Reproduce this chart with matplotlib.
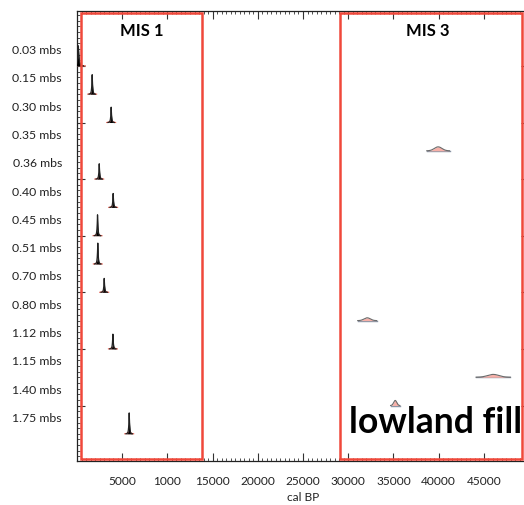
import numpy as np
import matplotlib
matplotlib.use("Agg")
import matplotlib.pyplot as plt
from matplotlib.ticker import MultipleLocator, FixedLocator, NullFormatter
from matplotlib.patches import Rectangle

# ---- data ----
depth_labels = ["0.03 mbs", "0.15 mbs", "0.30 mbs", "0.35 mbs", "0.36 mbs", "0.40 mbs",
                "0.45 mbs", "0.51 mbs", "0.70 mbs", "0.80 mbs", "1.12 mbs", "1.15 mbs",
                "1.40 mbs", "1.75 mbs"]
cal_age = [150, 1680, 3780, 39950, 2460, 4000, 2270, 2300, 3010, 32100, 3970, 46040, 35200, 5775]
cal_sd = [110, 70, 70, 420, 70, 70, 70, 70, 70, 350, 70, 630, 170, 70]
rel_height = [0.72, 0.70, 0.55, 0.14, 0.55, 0.50, 0.75, 0.75, 0.50, 0.10, 0.53, 0.10, 0.18, 0.75]
xtick_values = [5000, 10000, 15000, 20000, 25000, 30000, 35000, 40000, 45000]
xtick_labels = ["5000", "1000", "15000", "20000", "25000", "30000", "35000", "40000", "45000"]
periods = ["MIS 1", "MIS 3"]
period_start = [465, 29115]
period_end = [13850, 49250]

FONT = ["Lato", "DejaVu Sans"]
plt.rcParams["font.family"] = FONT
RED = "#f0483a"

W, H = 524, 506
fig = plt.figure(figsize=(W / 100, H / 100), dpi=100)
ax = fig.add_axes([77 / W, (H - 462) / H, 452 / W, 450 / H])

ax.set_xlim(0, 50000)
ax.set_ylim(13.96, -1.94)

rows = np.arange(len(depth_labels))
for r, m, s, h in zip(rows, cal_age, cal_sd, rel_height):
    if m < 14000:
        # narrow Holocene distribution: small pink likelihood + black needle
        xs = np.linspace(m - 7 * s, m + 7 * s, 300)
        g2 = np.exp(-0.5 * ((xs - m) / (2.5 * s)) ** 2)
        ax.fill_between(xs, r, r - 0.06 * g2, color="#f6b0a8", lw=0, zorder=3)
        ax.plot(xs, r - 0.06 * g2, color="#e05a4a", lw=0.8, zorder=3)
        xs = np.linspace(m - 5 * s, m + 5 * s, 400)
        g = np.exp(-np.abs(xs - m) / (0.8 * s))
        ax.fill_between(xs, r, r - h * g, color="black", lw=0, zorder=4)
        ax.plot(xs, r - h * g, color="#222222", lw=0.9, zorder=4)
    else:
        xs = np.linspace(m - 3 * s, m + 3 * s, 200)
        g = np.exp(-0.5 * ((xs - m) / s) ** 2)
        ax.plot([m - 3 * s, m + 3 * s], [r, r], color="#8a96a6", lw=1.0, zorder=3)
        ax.fill_between(xs, r, r - h * g, color="#f8b0a8", lw=0, zorder=4)
        ax.plot(xs, r - h * g, color="#6a6a6a", lw=0.8, zorder=5)

# y labels (offset above each baseline)
for r, lab in zip(rows, depth_labels):
    ax.annotate(lab, xy=(0, r - 0.58), xycoords=("axes fraction", "data"),
                xytext=(-15, 0), textcoords="offset pixels",
                ha="right", va="center", fontsize=8.8, color="#222222")

# ticks
ax.xaxis.set_major_locator(FixedLocator(xtick_values))
ax.set_xticklabels(xtick_labels)
ax.xaxis.set_minor_locator(MultipleLocator(500))
ax.yaxis.set_major_locator(MultipleLocator(2))
ax.yaxis.set_minor_locator(MultipleLocator(0.2))
ax.yaxis.set_major_formatter(NullFormatter())
ax.tick_params(axis="both", which="major", direction="in", length=6, width=0.8,
               top=True, right=True, color="#333333")
ax.tick_params(axis="both", which="minor", direction="in", length=2, width=0.6,
               top=True, right=True, color="#333333")
ax.tick_params(axis="x", which="major", labelsize=8.6, pad=10, labelcolor="#222222")
for sp in ax.spines.values():
    sp.set_linewidth(0.9)
    sp.set_color("#222222")

ax.set_xlabel("cal BP", fontsize=8.6, labelpad=4, color="#222222")

# period boxes
for name, x0, x1 in zip(periods, period_start, period_end):
    ax.add_patch(Rectangle((x0, -1.873), x1 - x0, 13.887 + 1.873, fill=False,
                           ec=RED, lw=1.8, zorder=6, clip_on=False))
    ax.text((x0 + x1) / 2 if name == "MIS 1" else 38850, -1.27, name,
            ha="center", va="center", fontsize=12, fontweight="bold", color="black",
            zorder=7)

ax.text(30110, 12.93, "lowland fill", ha="left", va="baseline", fontsize=25.6,
        fontweight="bold", color="black", zorder=7)

fig.savefig("out.png", dpi=100)
